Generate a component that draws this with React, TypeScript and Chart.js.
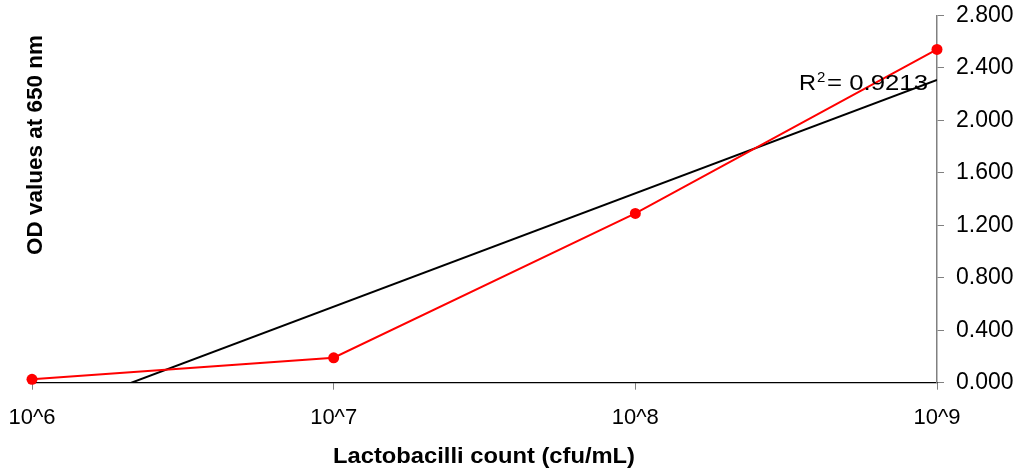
import React, { useEffect, useRef } from "react";
import { Chart, registerables } from "chart.js";

Chart.register(...registerables);

// Data
const exponents = [6, 7, 8, 9]; // cfu/mL = 10^exponent
const odValues = [0.026, 0.19, 1.29, 2.54];
const yTicks = [0, 0.4, 0.8, 1.2, 1.6, 2.0, 2.4, 2.8];
const rSquaredLabel = "0.9213";
const xTitle = "Lactobacilli count (cfu/mL)";
const yTitle = "OD values at 650 nm";

// least-squares linear trend line over the data
function trend(xs: number[], ys: number[]) {
  const n = xs.length;
  const mx = xs.reduce((a, b) => a + b, 0) / n;
  const my = ys.reduce((a, b) => a + b, 0) / n;
  let sxy = 0, sxx = 0;
  for (let i = 0; i < n; i++) {
    sxy += (xs[i] - mx) * (ys[i] - my);
    sxx += (xs[i] - mx) * (xs[i] - mx);
  }
  const slope = sxy / sxx;
  const b = my - slope * mx;
  return [xs[0], xs[n - 1]].map((x) => ({ x, y: slope * x + b }));
}

const FONT = "'Liberation Sans', Arial, sans-serif";

function stretchedText(ctx: any, text: string, x: number, y: number, targetWidth: number) {
  const w = ctx.measureText(text).width;
  ctx.save();
  ctx.translate(x, y);
  ctx.scale(targetWidth / w, 1);
  ctx.fillText(text, 0, 0);
  ctx.restore();
}

const textPlugin = {
  id: "texts",
  afterDatasetsDraw(chart: any) {
    const ctx = chart.ctx;
    ctx.save();
    ctx.fillStyle = "#000";
    // R^2 label
    ctx.textBaseline = "alphabetic";
    ctx.textAlign = "left";
    ctx.font = `22px ${FONT}`;
    stretchedText(ctx, "R", 799, 90, 17);
    ctx.font = `15px ${FONT}`;
    ctx.fillText("2", 817, 82);
    ctx.font = `22px ${FONT}`;
    stretchedText(ctx, "= " + rSquaredLabel, 827, 90, 101);
    // x title
    ctx.font = `bold 22px ${FONT}`;
    ctx.textBaseline = "middle";
    stretchedText(ctx, xTitle, 333, 457, 302);
    // y title
    ctx.translate(36, 255);
    ctx.rotate(-Math.PI / 2);
    ctx.font = `bold 22px ${FONT}`;
    stretchedText(ctx, yTitle, 0, 0, 220);
    ctx.restore();
  },
};

const noPad = (s: any) => {
  s.paddingTop = 0;
  s.paddingBottom = 0;
  s.paddingLeft = 0;
  s.paddingRight = 0;
};

export default function App() {
  const ref = useRef<HTMLCanvasElement>(null);
  useEffect(() => {
    if (!ref.current) return;
    const chart = new Chart(ref.current, {
      type: "line",
      data: {
        datasets: [
          {
            label: "OD",
            data: exponents.map((x, i) => ({ x, y: odValues[i] })),
            borderColor: "#ff0000",
            backgroundColor: "#ff0000",
            borderWidth: 2,
            pointRadius: 5.5,
            pointBorderWidth: 0,
            clip: 10,
            order: 1,
          },
          {
            label: "Trend",
            data: trend(exponents, odValues),
            borderColor: "#000000",
            borderWidth: 2,
            pointRadius: 0,
            order: 2,
          },
        ],
      },
      options: {
        animation: false,
        responsive: true,
        maintainAspectRatio: false,
        layout: { padding: { left: 32, top: 15.3, right: 0, bottom: 0 } },
        plugins: { legend: { display: false }, tooltip: { enabled: false } },
        scales: {
          x: {
            type: "linear",
            position: "bottom",
            min: 6,
            max: 9,
            afterFit: (s: any) => {
              s.height = 87.3;
              noPad(s);
            },
            afterBuildTicks: (s: any) => {
              s.ticks = exponents.map((v) => ({ value: v }));
            },
            grid: {
              drawOnChartArea: false,
              drawTicks: true,
              tickLength: 7,
              color: "#808080",
              lineWidth: 1,
            },
            border: { color: "#000000", width: 1.2 },
            ticks: {
              callback: (v: any) => "10^" + v,
              color: "#000",
              font: { family: FONT, size: 22 },
              padding: 15,
              maxRotation: 0,
            },
          },
          y: {
            position: "right",
            min: 0,
            max: 2.8,
            afterFit: (s: any) => {
              s.width = 89;
              noPad(s);
            },
            afterBuildTicks: (s: any) => {
              s.ticks = yTicks.map((v) => ({ value: v }));
            },
            grid: {
              drawOnChartArea: false,
              drawTicks: true,
              tickLength: 7,
              color: "#808080",
              lineWidth: 1,
            },
            border: { color: "#808080", width: 1.5 },
            ticks: {
              callback: (v: any) => Number(v).toFixed(3),
              color: "#000",
              font: { family: FONT, size: 23 },
              padding: 12,
            },
          },
        },
      },
      plugins: [textPlugin],
    });
    return () => chart.destroy();
  }, []);
  return (
    <div style={{ position: "fixed", left: 0, top: 0, width: 1026, height: 470, background: "#fff" }}>
      <canvas ref={ref} />
    </div>
  );
}
